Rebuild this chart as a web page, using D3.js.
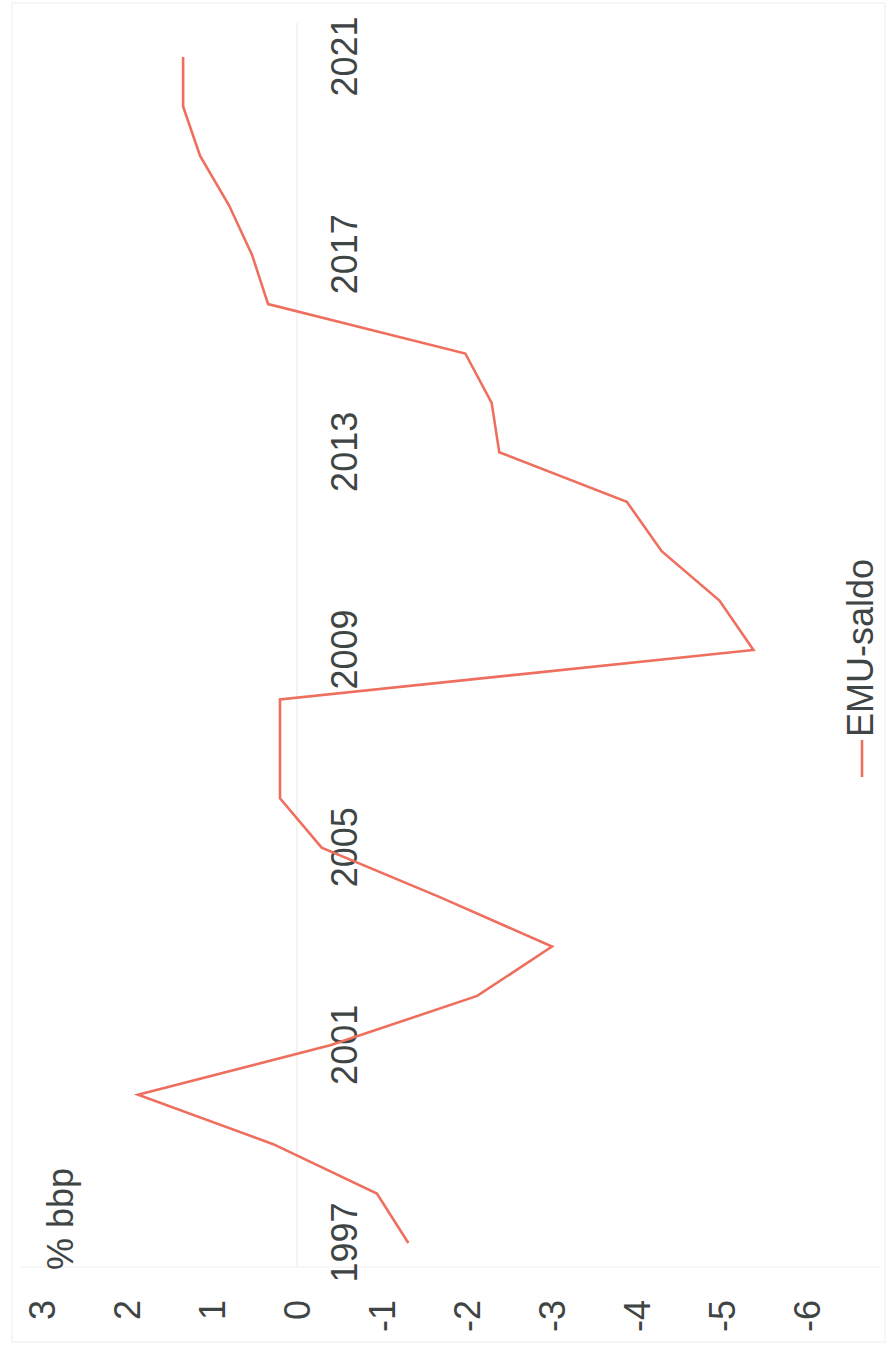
<!DOCTYPE html>
<html>
<head>
<meta charset="utf-8">
<script src="https://cdn.jsdelivr.net/npm/d3@7"></script>
<style>
  html, body { margin: 0; padding: 0; background: #fff; }
  svg { display: block; }
  text { font-family: "Liberation Sans", Arial, sans-serif; fill: #3f4444; }
</style>
</head>
<body>
<svg id="chart" width="892" height="1353"></svg>
<script>
// Data
const years = [1997,1998,1999,2000,2001,2002,2003,2004,2005,2006,2007,2008,2009,2010,2011,2012,2013,2014,2015,2016,2017,2018,2019,2020,2021];
const emuSaldo = [-1.31,-0.94,0.28,1.87,-0.39,-2.12,-3.0,-1.68,-0.29,0.2,0.2,0.2,-5.37,-4.97,-4.29,-3.88,-2.38,-2.29,-1.98,0.34,0.53,0.8,1.14,1.34,1.34];
const yTicks = [3,2,1,0,-1,-2,-3,-4,-5,-6];
const xTicks = [1997,2001,2005,2009,2013,2017,2021];
const seriesName = "EMU-saldo";
const unitLabel = "% bbp";

const W = 892, H = 1353;
const svg = d3.select("#chart");

// faint outer border (scan)
svg.append("rect").attr("x", 12).attr("y", 3).attr("width", 873).attr("height", 1339)
  .attr("fill", "none").attr("stroke", "#f3f3f5").attr("stroke-width", 1.5);

// Chart drawn in landscape frame (1353 x 892), rotated -90deg onto the page
const g = svg.append("g").attr("transform", `translate(0,${H}) rotate(-90)`);

const x = d3.scaleLinear().domain([1997, 2021]).range([110, 1296]);
const y = d3.scaleLinear().domain([3, -6]).range([42, 807]);

// zero line
g.append("line")
  .attr("x1", 86).attr("x2", 1330)
  .attr("y1", y(0)).attr("y2", y(0))
  .attr("stroke", "#efefef").attr("stroke-width", 1.5);

// plot area left edge (very faint)
g.append("line")
  .attr("x1", 86).attr("x2", 86)
  .attr("y1", 20).attr("y2", 880)
  .attr("stroke", "#f6f6f6").attr("stroke-width", 1.5);

// Y axis
const yAxis = g.append("g").attr("transform", "translate(53,0)")
  .call(d3.axisLeft(y).tickValues(yTicks).tickSize(0).tickPadding(0).tickFormat(d => String(d)));
yAxis.select(".domain").remove();
yAxis.selectAll("text").attr("font-size", 36).attr("dy", "0.35em")
  .attr("font-family", "'Liberation Sans', Arial, sans-serif").attr("fill", "#3f4444");

// X axis (labels at zero line)
const xAxis = g.append("g").attr("transform", "translate(0,331)")
  .call(d3.axisBottom(x).tickValues(xTicks).tickSize(0).tickPadding(0).tickFormat(d => String(d)));
xAxis.select(".domain").remove();
xAxis.selectAll("text").attr("font-size", 36)
  .attr("font-family", "'Liberation Sans', Arial, sans-serif").attr("fill", "#3f4444");

// Line
const line = d3.line().x((d, i) => x(years[i])).y(d => y(d));
g.append("path").datum(emuSaldo)
  .attr("d", line)
  .attr("fill", "none")
  .attr("stroke", "#ef6f5f")
  .attr("stroke-width", 2.6)
  .attr("stroke-linejoin", "miter");

// Unit label
g.append("text").attr("x", 83).attr("y", 73).attr("font-size", 36).text(unitLabel);

// Legend
g.append("line").attr("x1", 576).attr("x2", 613).attr("y1", 862).attr("y2", 862)
  .attr("stroke", "#ef6f5f").attr("stroke-width", 2.6);
g.append("text").attr("x", 616).attr("y", 873).attr("font-size", 36).text(seriesName);
</script>
</body>
</html>
